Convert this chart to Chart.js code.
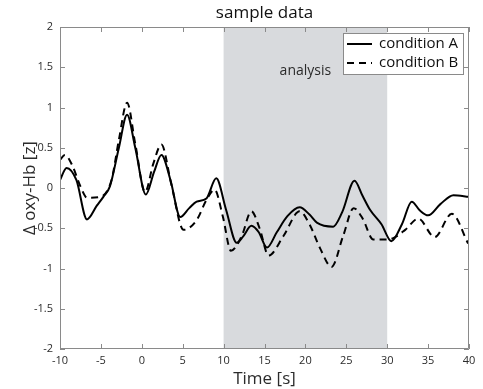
<!DOCTYPE html>
<html>
<head>
<meta charset="utf-8">
<script src="https://cdn.jsdelivr.net/npm/chart.js@4"></script>
<style>
  html, body { margin: 0; padding: 0; background: #fff; }
  #wrap { width: 483px; height: 389px; }
</style>
</head>
<body>
<div id="wrap"><canvas id="chart"></canvas></div>
<script>
// --- data ---
const timeA = [-10, -9.2, -8, -6.7, -5.5, -4.7, -3.9, -2.8, -1.8, -0.8, 0.5, 1.5, 2.4, 3.5, 4.7, 5.8, 6.7, 7.9, 9.1,
  10.3, 11.6, 12.4, 13.4, 14.3, 15.3, 16.5, 17.8, 19.3, 20.5, 21.4, 23.4, 24.5, 26.0, 27.0, 27.9, 29.3, 30.5,
  31.8, 33.0, 34.0, 35.0, 36.5, 38.1, 40];
const condA = [0.1, 0.25, 0.1, -0.39, -0.22, -0.11, 0.02, 0.5, 0.91, 0.5, -0.08, 0.2, 0.41, 0.1, -0.36, -0.25, -0.17, -0.13, 0.12,
  -0.27, -0.68, -0.6, -0.47, -0.55, -0.74, -0.55, -0.35, -0.24, -0.33, -0.43, -0.48, -0.3, 0.09, -0.1, -0.27, -0.45, -0.66,
  -0.45, -0.17, -0.28, -0.34, -0.2, -0.09, -0.11];

const timeB = [-10, -9.4, -8.5, -7.5, -6.7, -5.1, -3.7, -2.8, -1.8, -0.8, 0.4, 1.4, 2.4, 3.6, 5.1, 6.7, 7.9, 8.9, 9.9,
  10.9, 12.2, 13.4, 14.4, 15.5, 17.3, 19.3, 20.5, 21.8, 23.2, 24.6, 25.9, 27.0, 28.3, 29.7, 30.8, 32.2, 33.8,
  35.8, 37.9, 39.9];
const condB = [0.35, 0.41, 0.28, 0.02, -0.12, -0.11, 0.1, 0.6, 1.06, 0.55, -0.05, 0.3, 0.54, 0.05, -0.52, -0.4, -0.15, -0.02, -0.35,
  -0.78, -0.6, -0.29, -0.5, -0.84, -0.6, -0.29, -0.45, -0.75, -0.98, -0.6, -0.25, -0.38, -0.64, -0.64, -0.62, -0.52, -0.38,
  -0.61, -0.32, -0.69];

const seriesLabels = ['condition A', 'condition B'];
const chartTitle = 'sample data';
const analysisWindow = [10, 30];
const xTicks = [-10, -5, 0, 5, 10, 15, 20, 25, 30, 35, 40];
const yTicks = [-2, -1.5, -1, -0.5, 0, 0.5, 1, 1.5, 2];

const FONT = '"Open Sans", sans-serif';
const AXIS_COL = '#8a8a8a';
const TEXT_COL = '#2b2b2b';

const toPoints = (xs, ys) => xs.map((x, i) => ({ x, y: ys[i] }));

// shaded analysis window + label, title centred over the plot
const shadePlugin = {
    id: 'shade',
    beforeDatasetsDraw(chart) {
        const { ctx, chartArea: a, scales: { x, y } } = chart;
        const x0 = x.getPixelForValue(analysisWindow[0]);
        const x1 = x.getPixelForValue(analysisWindow[1]);
        ctx.save();
        ctx.fillStyle = '#d8dadd';
        ctx.fillRect(x0, a.top, x1 - x0, a.bottom - a.top);
        ctx.fillStyle = TEXT_COL;
        ctx.font = '14px ' + FONT;
        ctx.textAlign = 'center';
        ctx.textBaseline = 'middle';
        ctx.fillText('analysis', x.getPixelForValue(20), y.getPixelForValue(1.45));
        ctx.fillStyle = '#111';
        ctx.font = '500 17px ' + FONT;
        ctx.fillText(chartTitle, (a.left + a.right) / 2, 13);
        ctx.restore();
    }
};

// matlab-ish box with inward ticks, and the legend inside
const boxPlugin = {
    id: 'box',
    afterDatasetsDraw(chart) {
        const { ctx, chartArea: a, scales: { x, y } } = chart;
        const tl = 5;
        ctx.save();
        ctx.strokeStyle = AXIS_COL;
        ctx.lineWidth = 1;
        ctx.beginPath();
        ctx.rect(a.left + 0.5, a.top + 0.5, a.right - a.left - 1, a.bottom - a.top - 1);
        xTicks.forEach(v => {
            const px = Math.round(x.getPixelForValue(v)) + 0.5;
            ctx.moveTo(px, a.bottom); ctx.lineTo(px, a.bottom - tl);
            ctx.moveTo(px, a.top); ctx.lineTo(px, a.top + tl);
        });
        yTicks.forEach(v => {
            const py = Math.round(y.getPixelForValue(v)) + 0.5;
            ctx.moveTo(a.left, py); ctx.lineTo(a.left + tl, py);
            ctx.moveTo(a.right, py); ctx.lineTo(a.right - tl, py);
        });
        ctx.stroke();

        // legend
        const lx = 343, ly = 33, lw = 120, lh = 41;
        ctx.fillStyle = '#fff';
        ctx.fillRect(lx, ly, lw, lh);
        ctx.strokeStyle = AXIS_COL;
        ctx.strokeRect(lx + 0.5, ly + 0.5, lw, lh);
        ctx.font = '15px ' + FONT;
        ctx.fillStyle = '#111';
        ctx.textBaseline = 'middle';
        ctx.textAlign = 'left';
        chart.data.datasets.forEach((ds, i) => {
            const ry = ly + 11 + i * 19;
            ctx.strokeStyle = '#000';
            ctx.lineWidth = 2;
            ctx.setLineDash(ds.borderDash || []);
            ctx.beginPath();
            ctx.moveTo(lx + 4, ry); ctx.lineTo(lx + 29, ry);
            ctx.stroke();
            ctx.setLineDash([]);
            ctx.fillText(ds.label, lx + 36, ry);
        });
        ctx.restore();
    }
};

new Chart(document.getElementById('chart'), {
    type: 'line',
    data: {
        datasets: [
            {
                label: seriesLabels[0],
                data: toPoints(timeA, condA),
                borderColor: '#000',
                borderWidth: 2,
                pointRadius: 0,
                cubicInterpolationMode: 'monotone'
            },
            {
                label: seriesLabels[1],
                data: toPoints(timeB, condB),
                borderColor: '#000',
                borderWidth: 2,
                borderDash: [7, 5],
                pointRadius: 0,
                cubicInterpolationMode: 'monotone'
            }
        ]
    },
    options: {
        responsive: true,
        maintainAspectRatio: false,
        animation: false,
        layout: { padding: { top: 27, right: 14, left: 0, bottom: 0 } },
        plugins: {
            legend: { display: false },
            tooltip: { enabled: false },
            title: { display: false }
        },
        scales: {
            x: {
                type: 'linear',
                min: -10, max: 40,
                afterBuildTicks: s => { s.ticks = xTicks.map(v => ({ value: v })); },
                afterFit: s => { s.height = 40; },
                grid: { display: false, drawTicks: false },
                border: { display: false },
                ticks: { color: TEXT_COL, font: { family: FONT, size: 11 }, padding: 5, maxRotation: 0, autoSkip: false },
                title: { display: true, text: 'Time [s]', color: TEXT_COL, font: { family: FONT, size: 17 }, padding: 0 }
            },
            y: {
                min: -2, max: 2,
                afterBuildTicks: s => { s.ticks = yTicks.map(v => ({ value: v })); },
                afterFit: s => { s.width = 60; },
                grid: { display: false, drawTicks: false },
                border: { display: false },
                ticks: { color: TEXT_COL, font: { family: FONT, size: 11 }, padding: 7, callback: v => String(v) },
                title: { display: true, text: '\u0394 oxy-Hb [z]', color: TEXT_COL, font: { family: FONT, size: 17 }, padding: { top: 20, bottom: 0 } }
            }
        }
    },
    plugins: [shadePlugin, boxPlugin]
});
</script>
</body>
</html>
